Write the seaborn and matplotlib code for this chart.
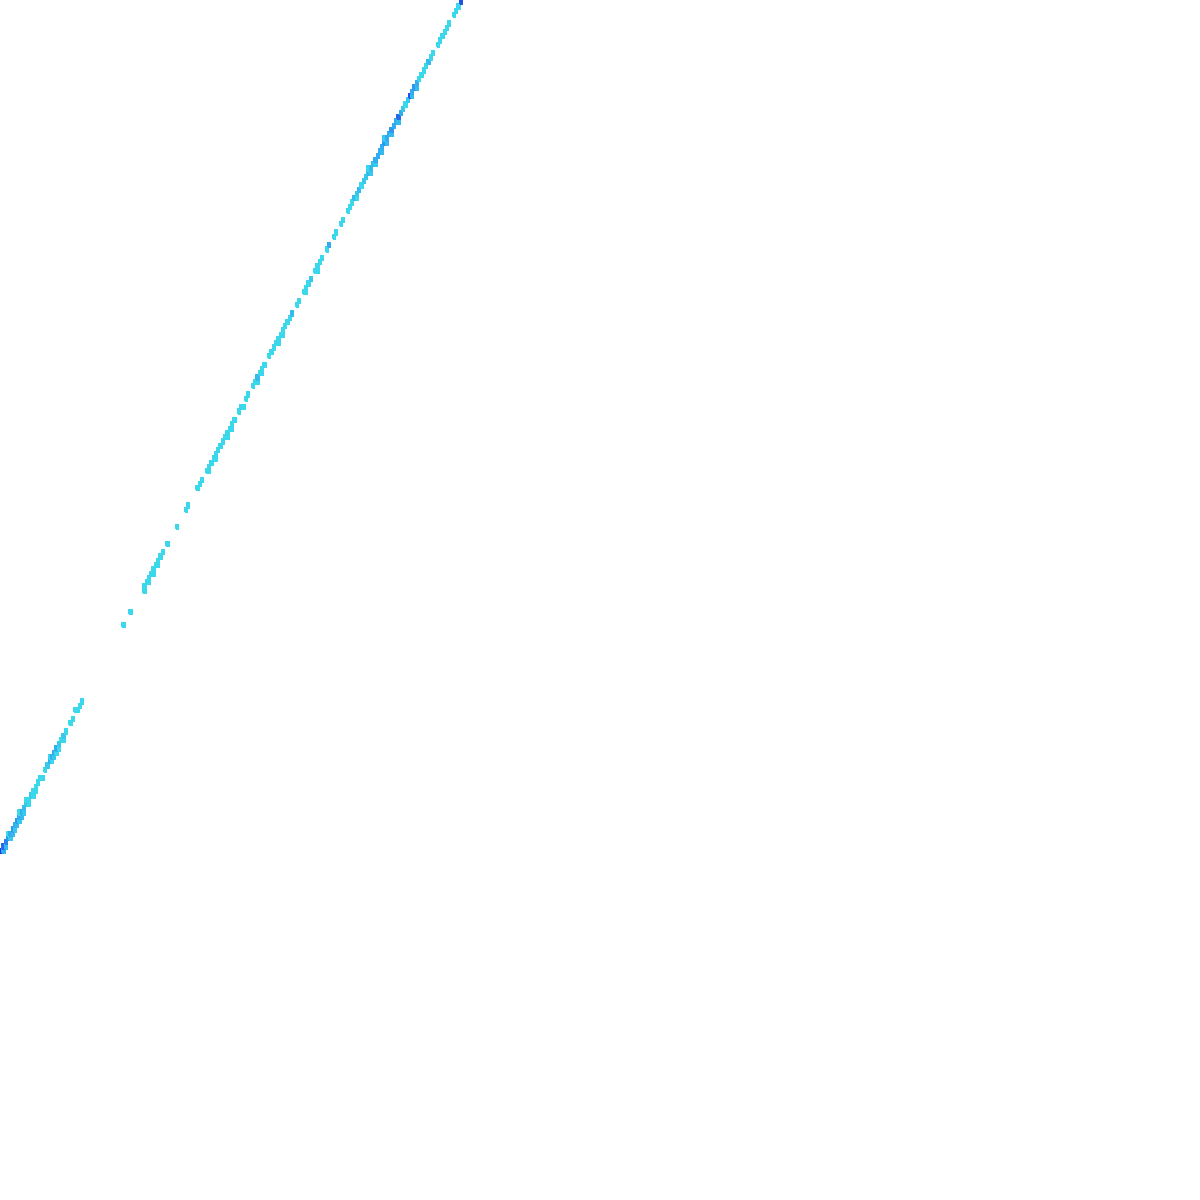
import numpy as np
import pandas as pd
import matplotlib
matplotlib.use("Agg")
import matplotlib.pyplot as plt
import seaborn as sns

# Binned sample cells (x, y, count) read along the correlated band
cell_x = [
    0.25, 0.75, 1.25, 0.75, 1.25,
    1.75, 2.25, 2.75, 3.25, 3.75, 4.25, 4.75, 5.25,
    2.25, 2.75, 3.25, 3.75, 4.25, 4.75, 5.25, 1.75, 4.25,
    5.75, 6.25, 6.75, 7.25, 7.75, 8.25, 6.25, 7.25, 5.75, 7.75,
    8.75, 9.75, 9.25,
    10.25, 10.75, 11.25, 11.75, 12.25, 12.75, 11.25, 11.75, 12.25, 10.75, 12.75,
    13.25, 13.75, 14.25, 13.75,
    15.25, 15.75, 16.25, 16.75, 17.25, 17.75,
    26.75, 28.25,
    31.25, 31.75, 32.25, 32.75, 33.25, 33.75, 34.25, 34.75, 32.25, 33.25, 34.25, 31.25,
    35.25, 36.25, 38.25, 40.25, 40.75, 42.75,
    43.25, 43.75, 44.75, 45.25, 45.75, 46.25, 46.75, 47.25, 47.75, 45.25, 46.75,
    48.25, 48.75, 49.25, 49.75, 50.25, 50.75, 49.25, 50.25,
    51.75, 52.25, 53.25, 53.75, 52.75,
    54.75, 55.25, 55.75, 56.25, 56.75, 57.25, 55.75, 56.75,
    58.25, 58.75, 59.25, 59.75, 60.25, 60.75, 61.25, 61.75, 62.25, 62.75, 60.25, 61.25,
    63.25, 64.25, 64.75,
    65.75, 66.25, 66.75, 67.25, 68.25, 68.75, 69.25, 69.75, 66.25, 68.75,
    70.75, 71.25, 72.25, 72.75,
    73.75, 74.25, 75.25, 75.75, 76.25,
    76.75, 77.25, 77.75, 78.25, 78.75, 77.25,
    79.25, 79.75, 80.25, 80.75, 81.25, 81.75, 80.25, 81.25, 79.75,
    82.25, 82.75, 83.25, 83.75, 84.25, 84.75, 85.25, 82.75, 83.75, 84.75, 83.25,
    85.75, 86.25, 86.75, 86.25,
    87.25, 87.75, 88.25,
    88.75, 89.25, 89.75, 90.25, 89.25, 90.25,
    90.75, 91.25, 91.75, 92.25, 92.75,
    93.25, 93.75, 94.75, 95.25, 95.75, 96.25, 96.75, 97.25, 98.25, 98.75, 99.25, 99.75,
]
cell_y = [
    0.25, 0.75, 1.25, 0.25, 0.75,
    1.75, 2.25, 2.75, 3.25, 3.75, 4.25, 4.75, 5.25,
    1.75, 2.25, 2.75, 3.25, 3.75, 4.25, 4.75, 2.25, 4.75,
    5.75, 6.25, 6.75, 7.25, 7.75, 8.25, 5.75, 6.75, 6.25, 7.25,
    8.75, 9.75, 8.75,
    10.25, 10.75, 11.25, 11.75, 12.25, 12.75, 10.75, 11.25, 11.75, 11.25, 12.25,
    13.25, 13.75, 14.25, 13.25,
    15.25, 15.75, 16.75, 16.75, 17.25, 17.75,
    26.75, 28.25,
    31.25, 31.75, 32.25, 32.75, 33.25, 33.75, 34.25, 34.75, 31.75, 32.75, 33.75, 30.75,
    35.25, 36.25, 38.25, 40.25, 40.75, 42.75,
    43.25, 43.75, 44.75, 45.25, 45.75, 46.25, 46.75, 47.25, 47.75, 44.75, 46.25,
    48.25, 48.75, 49.25, 49.75, 50.25, 50.75, 48.75, 49.75,
    51.75, 52.25, 53.25, 53.75, 52.25,
    54.75, 55.25, 55.75, 56.25, 56.75, 57.25, 55.25, 56.25,
    58.25, 58.75, 59.25, 59.75, 60.25, 60.75, 61.25, 61.75, 62.25, 62.75, 59.75, 60.75,
    63.25, 64.25, 64.75,
    65.75, 66.25, 66.75, 67.25, 68.25, 68.75, 69.25, 69.75, 65.75, 68.25,
    70.75, 71.25, 72.25, 72.75,
    73.75, 74.25, 75.25, 75.75, 76.25,
    76.75, 77.25, 77.75, 78.25, 78.75, 76.75,
    79.25, 79.75, 80.25, 80.75, 81.25, 81.75, 79.75, 80.75, 80.25,
    82.25, 82.75, 83.25, 83.75, 84.25, 84.75, 85.25, 82.25, 83.25, 84.25, 83.75,
    85.75, 86.25, 86.75, 85.75,
    87.25, 87.75, 88.25,
    88.75, 89.25, 89.75, 90.25, 88.75, 89.75,
    90.75, 91.25, 91.75, 92.25, 92.75,
    93.25, 93.75, 94.75, 95.25, 95.75, 96.25, 96.75, 97.25, 98.25, 98.75, 99.25, 99.75,
]
cell_count = [
    9, 7, 6, 4, 3,
    5, 4, 5, 4, 5, 4, 4, 3,
    2, 3, 2, 3, 2, 3, 2, 1, 1,
    2, 1, 2, 1, 1, 1, 1, 1, 1, 1,
    1, 1, 1,
    2, 4, 4, 4, 4, 2, 1, 2, 1, 1, 1,
    1, 2, 1, 1,
    1, 1, 1, 1, 1, 1,
    1, 1,
    1, 1, 1, 1, 1, 1, 1, 1, 1, 1, 1, 1,
    1, 1, 1, 1, 1, 1,
    1, 1, 1, 1, 1, 1, 1, 1, 1, 1, 1,
    1, 1, 1, 1, 1, 1, 1, 1,
    1, 1, 1, 1, 1,
    1, 1, 3, 1, 1, 1, 1, 1,
    1, 1, 1, 1, 1, 1, 1, 1, 1, 1, 1, 1,
    3, 1, 1,
    1, 1, 1, 2, 1, 1, 1, 1, 1, 1,
    1, 4, 1, 1,
    1, 1, 1, 1, 1,
    3, 2, 3, 1, 2, 1,
    2, 3, 3, 3, 4, 4, 2, 2, 1,
    4, 4, 5, 4, 4, 5, 4, 3, 3, 3, 2,
    4, 7, 4, 3,
    2, 1, 2,
    8, 4, 5, 4, 3, 3,
    1, 1, 1, 1, 3,
    1, 1, 1, 1, 1, 1, 1, 1, 1, 1, 1, 8,
]

df = pd.DataFrame({"x": cell_x, "y": cell_y, "count": cell_count})

sns.set_theme(style="white")
cmap = sns.blend_palette(["#3de6e8", "#2fa4f0", "#1f3be6"], as_cmap=True)

fig = plt.figure(figsize=(12, 12), dpi=100)
ax = fig.add_axes([0, 0, 1, 1])
sns.histplot(data=df, x="x", y="y", weights="count",
             binwidth=0.5, binrange=((0, 100), (0, 100)),
             cmap=cmap, edgecolors="face", linewidth=1.1, ax=ax)
ax.set_xlim(0, 1200 / 4.62)
ax.set_ylim(-(1200 - 853) / 8.53, 853 / 8.53)
ax.axis("off")
fig.savefig("out.png", dpi=100, facecolor="white")
